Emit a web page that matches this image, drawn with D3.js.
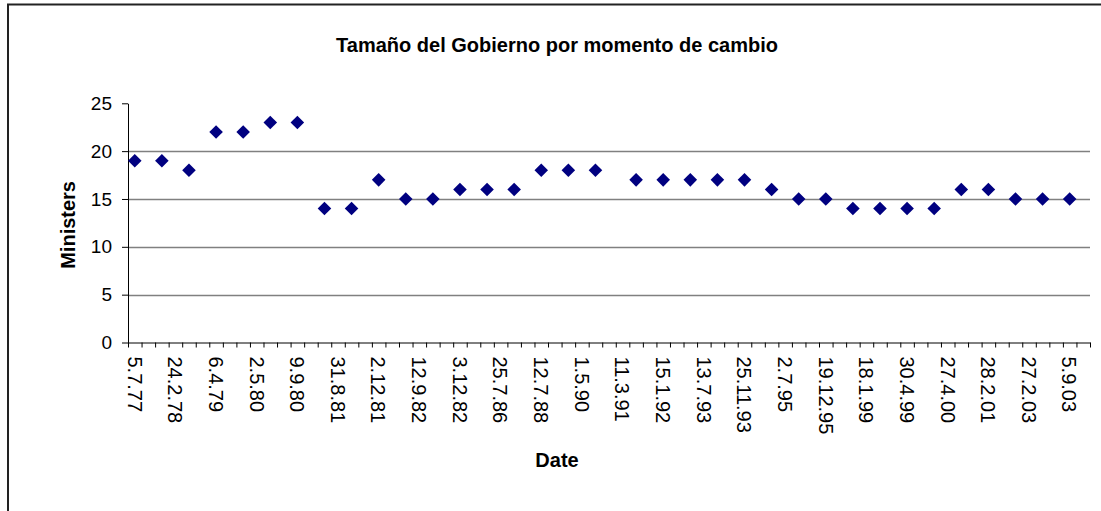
<!DOCTYPE html>
<html>
<head>
<meta charset="utf-8">
<script src="https://cdn.jsdelivr.net/npm/d3@7"></script>
<style>
  body { margin: 0; background: #fff; }
  text { font-family: "Liberation Sans", Arial, sans-serif; fill: #000; }
</style>
</head>
<body>
<div id="chart"></div>
<script>
// labels shown on the date axis (every third slot)
const dateLabels = ['5.7.77', '24.2.78', '6.4.79', '2.5.80', '9.9.80', '31.8.81', '2.12.81', '12.9.82',
  '3.12.82', '25.7.86', '12.7.88', '1.5.90', '11.3.91', '15.1.92', '13.7.93', '25.11.93',
  '2.7.95', '19.12.95', '18.1.99', '30.4.99', '27.4.00', '28.2.01', '27.2.03', '5.9.03'];
const labelEvery = 3;
const slotCount = 71;

// category slot of each government change and its size
const pointSlots = [0, 2, 4, 6, 8, 10, 12, 14, 16, 18, 20, 22, 24, 26, 28, 30, 32, 34,
  37, 39, 41, 43, 45, 47, 49, 51, 53, 55, 57, 59, 61, 63, 65, 67, 69];
const ministers = [19, 19, 18, 22, 22, 23, 23, 14, 14, 17, 15, 15, 16, 16, 16, 18, 18, 18,
  17, 17, 17, 17, 17, 16, 15, 15, 14, 14, 14, 14, 16, 16, 15, 15, 15];

const yTicks = [0, 5, 10, 15, 20, 25];
const gridValues = [5, 10, 15, 20];

const draw = (el) => {
  const dimensions = { width: 1101, height: 511 };
  const plot = { left: 128, right: 1090, top: 103.3, bottom: 342.5 };

  const svg = d3.select(el)
    .append('svg')
    .attr('width', dimensions.width)
    .attr('height', dimensions.height);

  // chart area border (runs off the right and bottom)
  svg.append('rect')
    .attr('x', 8)
    .attr('y', 4.5)
    .attr('width', 1120)
    .attr('height', 540)
    .attr('fill', 'none')
    .attr('stroke', '#222')
    .attr('stroke-width', 2);

  const x = d3.scaleLinear()
    .domain([0, slotCount])
    .range([plot.left, plot.right]);

  const y = d3.scaleLinear()
    .domain([0, 25])
    .range([plot.bottom, plot.top]);

  // gridlines
  svg.append('g')
    .selectAll('line')
    .data(gridValues)
    .join('line')
    .attr('x1', plot.left)
    .attr('x2', plot.right)
    .attr('y1', (d) => Math.round(y(d)) + 0.5)
    .attr('y2', (d) => Math.round(y(d)) + 0.5)
    .attr('stroke', '#808080')
    .attr('stroke-width', 1.3);

  // y axis
  const yAxis = svg.append('g')
    .attr('transform', `translate(${plot.left}, 0)`)
    .call(d3.axisLeft(y).tickValues(yTicks).tickSize(6).tickPadding(10).tickSizeOuter(0));
  yAxis.select('.domain').attr('stroke', '#000');
  yAxis.selectAll('line').attr('stroke', '#000');
  yAxis.selectAll('text')
    .attr('font-size', 19)
    .attr('font-family', '"Liberation Sans", Arial, sans-serif');

  // x axis, ticks between category slots
  const xAxis = svg.append('g')
    .attr('transform', `translate(0, ${plot.bottom})`)
    .call(d3.axisBottom(x).tickValues(d3.range(slotCount + 1)).tickSize(5).tickFormat('').tickSizeOuter(0));
  xAxis.select('.domain').attr('stroke', '#000');
  xAxis.selectAll('line').attr('stroke', '#000');

  // rotated date labels
  svg.append('g')
    .selectAll('text')
    .data(dateLabels)
    .join('text')
    .attr('transform', (_, i) => `translate(${x(i * labelEvery + 0.5)}, ${plot.bottom + 14}) rotate(90)`)
    .attr('dy', '0.36em')
    .attr('font-size', 20)
    .text((d) => d);

  // markers
  svg.append('g')
    .selectAll('path')
    .data(ministers)
    .join('path')
    .attr('d', d3.symbol(d3.symbolSquare, 92))
    .attr('transform', (d, i) => `translate(${x(pointSlots[i] + 0.5)}, ${y(d)}) rotate(45)`)
    .attr('fill', '#000080');

  // titles
  const mid = 557;
  svg.append('text')
    .attr('x', mid)
    .attr('y', 52)
    .attr('text-anchor', 'middle')
    .attr('font-size', 20)
    .attr('font-weight', 'bold')
    .text('Tamaño del Gobierno por momento de cambio');

  svg.append('text')
    .attr('x', mid)
    .attr('y', 467)
    .attr('text-anchor', 'middle')
    .attr('font-size', 20)
    .attr('font-weight', 'bold')
    .text('Date');

  svg.append('text')
    .attr('transform', `translate(75, ${(plot.top + plot.bottom) / 2 + 2}) rotate(-90)`)
    .attr('text-anchor', 'middle')
    .attr('font-size', 20)
    .attr('font-weight', 'bold')
    .text('Ministers');
};

draw('#chart');
</script>
</body>
</html>
